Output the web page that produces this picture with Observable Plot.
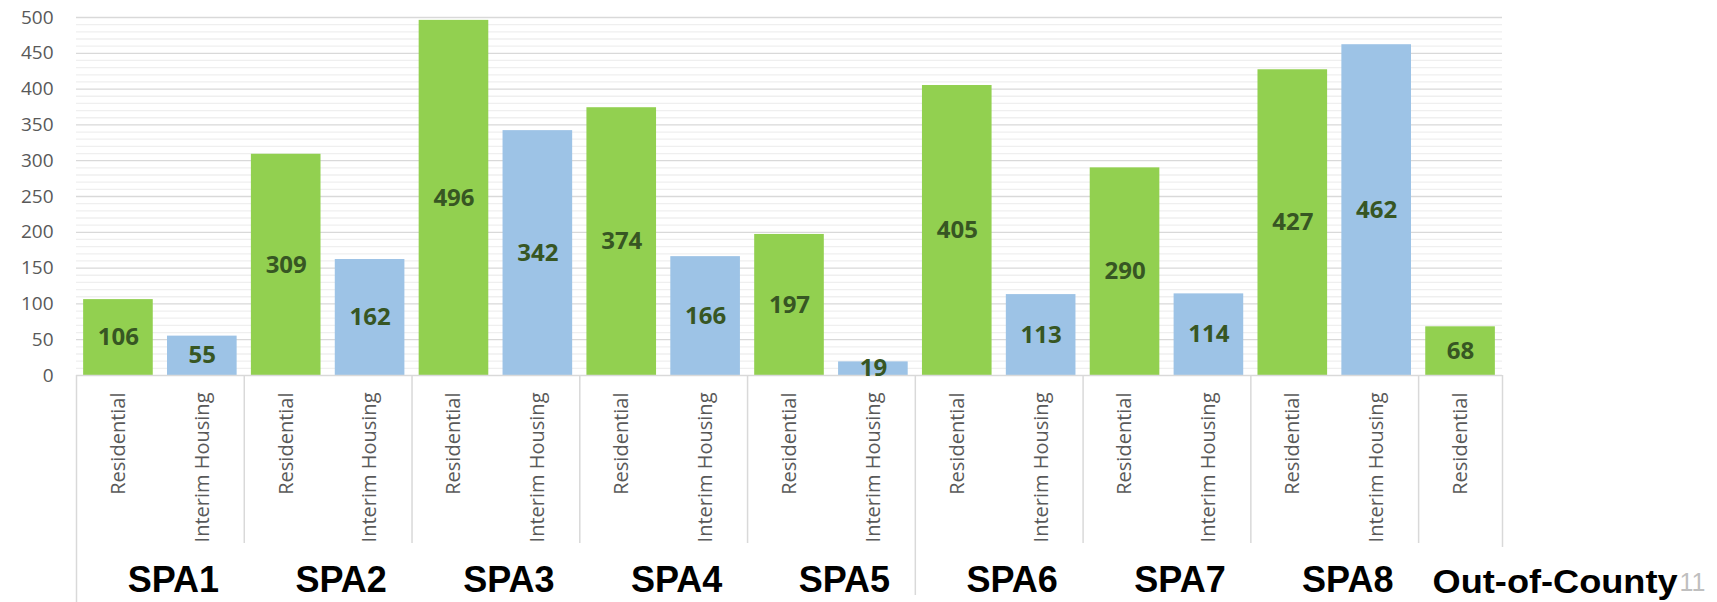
<!DOCTYPE html>
<html>
<head>
<meta charset="utf-8">
<script src="https://cdn.jsdelivr.net/npm/d3@7"></script>
<script src="https://cdn.jsdelivr.net/npm/@observablehq/plot@0.6"></script>
<style>
  html, body { margin: 0; padding: 0; background: #ffffff; }
  #chart svg { display: block; }
</style>
</head>
<body>
<div id="chart"></div>
<script>
// ---- data ----
const groups = ["SPA1", "SPA2", "SPA3", "SPA4", "SPA5", "SPA6", "SPA7", "SPA8", "Out-of-County"];
const types = ["Residential", "Interim Housing"];
const residential = [106, 309, 496, 374, 197, 405, 290, 427, 68];
const interimHousing = [55, 162, 342, 166, 19, 113, 114, 462, null];
const yTicks = [0, 50, 100, 150, 200, 250, 300, 350, 400, 450, 500];
const pageNumber = "11";

// ---- table built from arrays ----
const rows = [];
groups.forEach((g, i) => {
  rows.push({group: g, type: types[0], value: residential[i], key: g + "|" + types[0]});
  if (interimHousing[i] != null) rows.push({group: g, type: types[1], value: interimHousing[i], key: g + "|" + types[1]});
});
const keys = rows.map(d => d.key);
const firstKey = g => rows.find(d => d.group === g).key;

// ---- layout ----
const W = 1717, H = 602;
const mL = 76, mR = 215, mT = 17, mB = 227;
const step = (W - mL - mR) / keys.length;
const frameH = H - mT - mB;

const spaGroups = groups.slice(0, 8);
const oocGroup = groups[8];
const shortSepGroups = ["SPA2", "SPA3", "SPA4", "SPA5", "SPA7", "SPA8", "Out-of-County"];

const sans = "'Open Sans', 'Noto Sans', sans-serif";
const arial = "'Liberation Sans', Arial, sans-serif";

const chart = Plot.plot({
  width: W,
  height: H,
  marginLeft: mL,
  marginRight: mR,
  marginTop: mT,
  marginBottom: mB,
  style: {fontFamily: sans, fontSize: "19px", color: "#595959", background: "#ffffff"},
  x: {type: "band", domain: keys, paddingInner: 0.17, paddingOuter: 0.085, round: false, axis: null},
  y: {domain: [0, 500], ticks: yTicks, tickSize: 0, tickPadding: 23, label: null},
  color: {domain: types, range: ["#92d050", "#9dc3e6"]},
  marks: [
    // minor gridlines
    Plot.ruleY(d3.range(10, 500, 10).filter(v => v % 50 !== 0), {stroke: "#efefef", strokeWidth: 1.3}),
    // major gridlines
    Plot.ruleY(yTicks.slice(1), {stroke: "#d9d9d9", strokeWidth: 1.3}),
    // bars
    Plot.barY(rows, {x: "key", y: "value", fill: "type"}),
    // axis baseline
    Plot.ruleY([0], {stroke: "#d9d9d9", strokeWidth: 1.5}),
    // category separators below the axis
    Plot.ruleX(shortSepGroups.map(firstKey), {dx: -step / 2, insetTop: frameH, insetBottom: -168, stroke: "#d9d9d9", strokeWidth: 1.5}),
    Plot.ruleX([firstKey("SPA1")], {dx: -step / 2, insetTop: frameH, insetBottom: -227, stroke: "#d9d9d9", strokeWidth: 1.5}),
    Plot.ruleX([firstKey("SPA6")], {dx: -step / 2, insetTop: frameH, insetBottom: -220, stroke: "#d9d9d9", strokeWidth: 1.5}),
    Plot.ruleX([firstKey(oocGroup)], {dx: step / 2, insetTop: frameH, insetBottom: -172, stroke: "#d9d9d9", strokeWidth: 1.5}),
    // value labels, centred inside the bars
    Plot.text(rows, {x: "key", y: d => d.value / 2, text: d => String(d.value), fill: "#375623", fontWeight: "bold", fontSize: 24, fontFamily: sans}),
    // category labels (rotated)
    Plot.text(rows, {x: "key", frameAnchor: "bottom", dy: 17, text: "type", rotate: -90, textAnchor: "end", lineAnchor: "middle", fontSize: 20, fill: "#595959", fontFamily: sans}),
    // group labels
    Plot.text(spaGroups, {x: g => firstKey(g), frameAnchor: "bottom", dx: step / 2 + 13, dy: 216, lineAnchor: "bottom", text: d => d, fontSize: 36, fontWeight: "bold", fill: "#000000", fontFamily: arial}),
    Plot.text([oocGroup], {x: g => firstKey(g), frameAnchor: "bottom", dx: -step / 2 + 14, dy: 217, lineAnchor: "bottom", textAnchor: "start", text: d => d, fontSize: 33, fontWeight: "bold", fill: "#000000", fontFamily: arial}),
    // slide number
    Plot.text([pageNumber], {frameAnchor: "bottom-right", dx: 177, dy: 215, lineAnchor: "bottom", textAnchor: "start", text: d => d, fontSize: 25, fill: "#bfbfbf", fontFamily: arial})
  ]
});

// the Out-of-County label in the reference is horizontally stretched
chart.querySelectorAll("text").forEach(t => {
  if (t.textContent === oocGroup) {
    t.setAttribute("textLength", "245");
    t.setAttribute("lengthAdjust", "spacingAndGlyphs");
  }
});

document.getElementById("chart").appendChild(chart);
</script>
</body>
</html>
